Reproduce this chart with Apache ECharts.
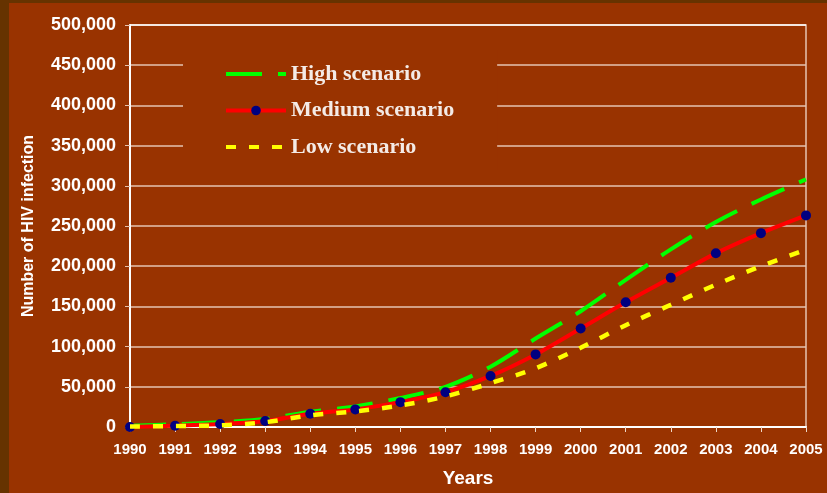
<!DOCTYPE html>
<html>
<head>
<meta charset="utf-8">
<script src="https://cdn.jsdelivr.net/npm/echarts@6/dist/echarts.min.js"></script>
<style>
  html, body {
    margin: 0;
    padding: 0;
    width: 827px;
    height: 493px;
    background: #663300;
    overflow: hidden;
  }
  #chart {
    position: absolute;
    left: 9px;
    top: 3px;
    width: 818px;
    height: 490px;
  }
</style>
</head>
<body>
<div id="chart"></div>
<script>
const years = ['1990', '1991', '1992', '1993', '1994', '1995', '1996', '1997',
  '1998', '1999', '2000', '2001', '2002', '2003', '2004', '2005'];
const highScenario = [1500, 3500, 6000, 10000, 19000, 25500, 36000, 50000,
  75000, 110000, 144000, 183000, 221000, 255000, 283000, 308000];
const mediumScenario = [0, 1600, 3700, 7400, 16500, 21900, 30900, 43300,
  63500, 90300, 122500, 155100, 185600, 216000, 241100, 263200];
const lowScenario = [500, 1200, 2000, 6000, 14500, 19400, 26800, 38000,
  54500, 73000, 98600, 126600, 152000, 177000, 200000, 220700];
const seriesNames = ['High scenario', 'Medium scenario', 'Low scenario'];

const gridLine = '#e6c4b0';
const sans = '"Liberation Sans", Arial, sans-serif';

function initChart() {
  const chartInstance = echarts.init(document.getElementById('chart'));
  // top split line (500,000) is white, the rest are light pink
  const splitColors = [];
  for (let i = 0; i < 10; i++) splitColors.push(gridLine);
  splitColors.push('#ffffff');

  const option = {
    backgroundColor: '#993300',
    animation: false,
    grid: {
      left: 121,
      right: 21,
      top: 22,
      bottom: 64,
      show: true,
      borderColor: gridLine,
      borderWidth: 1.5,
      backgroundColor: 'transparent',
    },
    legend: {
      orient: 'vertical',
      left: 174,
      top: 47,
      padding: [13, 43, 12, 41],
      backgroundColor: '#993300',
      itemWidth: 60,
      itemHeight: 12,
      itemGap: 14.5,
      lineStyle: { width: 4 },
      // only the medium line shows its marker in the legend
      data: [
        { name: seriesNames[0], itemStyle: { opacity: 0 } },
        { name: seriesNames[1] },
        { name: seriesNames[2], itemStyle: { opacity: 0 } },
      ],
      textStyle: {
        color: '#f4ebe6',
        fontFamily: '"Liberation Serif", "Times New Roman", serif',
        fontWeight: 'bold',
        fontSize: 22,
      },
    },
    xAxis: {
      type: 'category',
      data: years,
      boundaryGap: false,
      name: 'Years',
      nameLocation: 'middle',
      nameGap: 42,
      nameTextStyle: {
        color: '#ffffff',
        fontFamily: sans,
        fontWeight: 'bold',
        fontSize: 19,
      },
      axisLine: {
        lineStyle: { color: '#ffffff', width: 2 },
      },
      axisTick: {
        show: true,
        length: 5,
        lineStyle: { color: '#f0d8c8' },
      },
      axisLabel: {
        interval: 0,
        margin: 15,
        color: '#ffffff',
        fontFamily: sans,
        fontWeight: 'bold',
        fontSize: 15,
      },
    },
    yAxis: {
      type: 'value',
      min: 0,
      max: 500000,
      interval: 50000,
      name: 'Number of HIV infection',
      nameLocation: 'middle',
      nameGap: 93,
      nameTextStyle: {
        color: '#ffffff',
        fontFamily: sans,
        fontWeight: 'bold',
        fontSize: 16,
      },
      axisLine: {
        show: true,
        lineStyle: { color: '#ffffff', width: 2 },
      },
      axisTick: {
        show: true,
        length: 5,
        lineStyle: { color: gridLine },
      },
      axisLabel: {
        margin: 14,
        color: '#ffffff',
        fontFamily: sans,
        fontWeight: 'bold',
        fontSize: 18,
        formatter: (v) => v.toLocaleString('en-US'),
      },
      splitLine: {
        lineStyle: { color: splitColors, width: 1.5 },
      },
    },
    series: [
      {
        name: seriesNames[0],
        type: 'line',
        data: highScenario,
        smooth: 0.3,
        symbol: 'none',
        z: 2,
        itemStyle: { color: '#00ff00' },
        lineStyle: { color: '#00ff00', width: 4, type: [36, 16] },
      },
      {
        name: seriesNames[1],
        type: 'line',
        data: mediumScenario,
        smooth: 0.3,
        symbol: 'circle',
        symbolSize: 10,
        z: 3,
        itemStyle: { color: '#000080', borderWidth: 0 },
        lineStyle: { color: '#ff0000', width: 4 },
      },
      {
        name: seriesNames[2],
        type: 'line',
        data: lowScenario,
        smooth: 0.3,
        symbol: 'none',
        z: 4,
        itemStyle: { color: '#ffff00' },
        lineStyle: { color: '#ffff00', width: 4.5, type: [10, 13] },
      },
    ],
  };
  chartInstance.setOption(option);
}

initChart();
</script>
</body>
</html>
